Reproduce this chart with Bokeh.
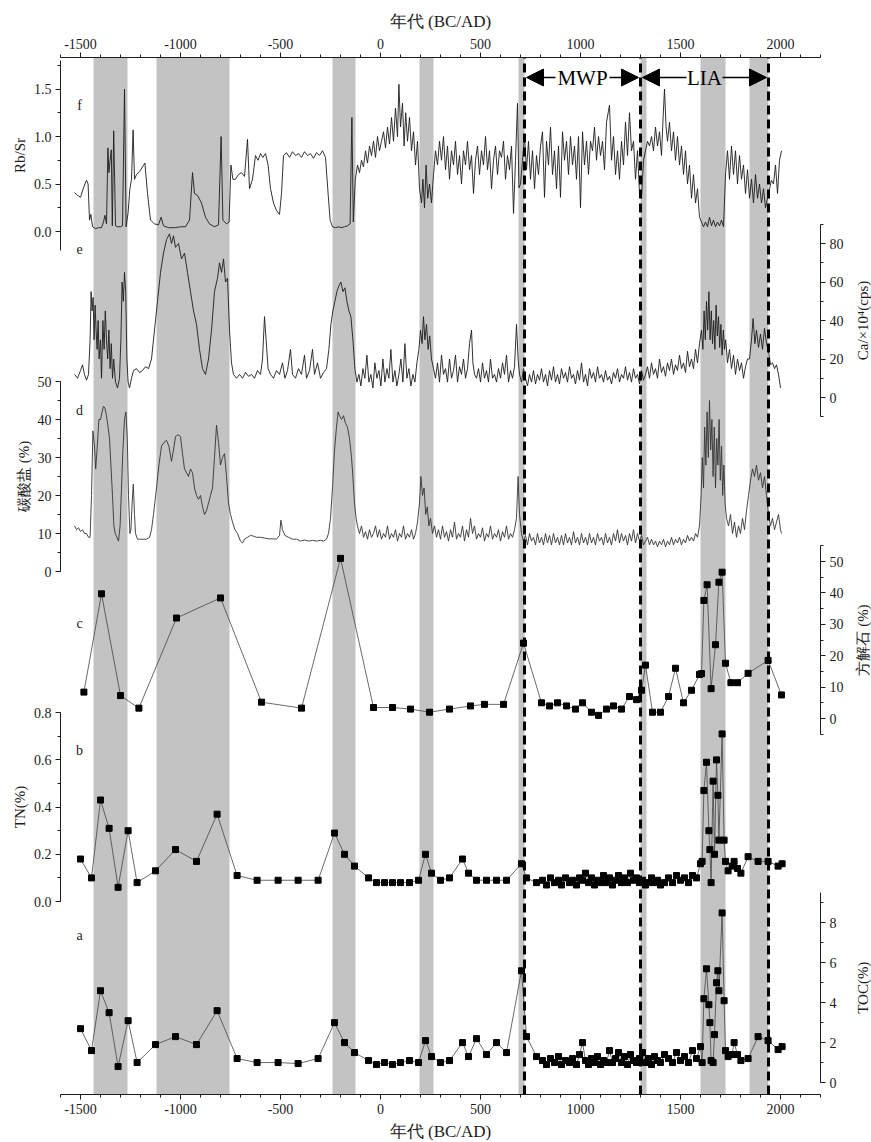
import math
from bokeh.plotting import figure
from bokeh.models import (Range1d, LinearAxis, SingleIntervalTicker, PrintfTickFormatter,
                          BoxAnnotation, Label, Arrow, NormalHead)
from bokeh.embed import file_html
from bokeh.resources import INLINE

# ---------------- data ----------------
# f: Rb/Sr
rbsr_year = [-1530,-1515,-1500,-1485,-1470,-1462,-1455,-1448,-1440,-1425,-1410,-1395,-1385,-1378,-1370,-1363,-1358,-1352,-1346,-1341,
             -1334,-1325,-1315,-1300,-1290,-1280,-1272,-1262,-1253,-1245,-1237,-1230,-1220,-1205,-1190,-1178,-1165,-1150,-1130,-1110,
             -1097,-1085,-1060,-1030,-1000,-975,-955,-940,-930,-915,-895,-875,-855,-830,-810,-797,-788,-770,-757,-748,
             -738,-725,-710,-695,-680,-665,-655,-640,-625,-612,-600,-588,-575,-562,-550,-535,-520,-505,-495,-485,
             -470,-455,-440,-425,-410,-395,-380,-365,-350,-335,-320,-305,-290,-275,-262,-252,-240,-225,-210,-195,
             -180,-165,-152,-143,-136,-126,-115,-105,-95,-85,-75,-65,-55,-45,-35,-25,-15,-5,5,15,
             25,35,45,55,65,75,85,92,100,110,118,126,135,145,155,165,175,185,195,205,
             212,220,228,236,245,255,265,275,285,295,305,315,325,335,345,355,365,375,385,395,
             405,415,425,435,445,455,465,475,485,495,505,515,525,535,545,555,565,575,585,595,
             605,615,625,635,645,655,665,675,685,692,700,710,720,730,740,750,760,770,780,790,
             800,810,820,830,840,850,860,870,880,890,900,910,920,930,940,950,960,970,980,990,
             1000,1010,1020,1030,1040,1050,1060,1070,1080,1090,1100,1110,1120,1130,1145,1155,1165,1175,1185,1195,
             1205,1215,1225,1235,1245,1255,1265,1275,1285,1295,1305,1315,1325,1335,1345,1355,1365,1375,1385,1395,
             1405,1413,1420,1428,1435,1445,1455,1465,1475,1485,1495,1505,1515,1525,1535,1545,1555,1565,1575,1585,
             1595,1605,1615,1625,1635,1645,1655,1665,1675,1685,1695,1705,1715,1725,1735,1745,1755,1765,1775,1785,
             1795,1805,1815,1825,1835,1845,1855,1865,1875,1885,1895,1905,1915,1925,1935,1945,1955,1965,1975,1985,
             1995,2005]
rbsr_val = [0.41,0.38,0.36,0.46,0.54,0.50,0.12,0.18,0.05,0.03,0.04,0.04,0.10,0.17,0.08,0.88,0.62,0.75,0.86,0.06,
            1.06,0.06,0.05,0.05,0.06,1.50,0.05,0.20,0.45,0.55,1.07,0.55,0.60,0.63,0.68,0.72,0.40,0.12,0.08,0.07,
            0.15,0.06,0.04,0.04,0.05,0.05,0.12,0.62,0.40,0.38,0.30,0.15,0.08,0.05,0.07,1.00,0.12,0.08,0.10,0.70,
            0.55,0.55,0.60,0.62,0.58,0.97,0.45,0.55,0.80,0.75,0.82,0.78,0.82,0.70,0.45,0.30,0.22,0.18,0.40,0.80,
            0.83,0.78,0.84,0.80,0.82,0.78,0.84,0.80,0.82,0.77,0.83,0.80,0.85,0.78,0.40,0.12,0.05,0.04,0.05,0.04,
            0.05,0.06,0.08,1.20,0.10,0.55,0.70,0.62,0.75,0.68,0.85,0.72,0.90,0.80,0.95,0.78,1.00,0.85,0.95,1.05,
            0.88,1.10,0.92,1.20,0.95,1.30,1.00,1.55,1.10,1.35,0.90,1.25,0.95,1.20,0.85,1.05,0.70,0.95,0.45,0.30,
            0.55,0.25,0.70,0.35,0.50,0.30,0.60,0.85,0.70,0.95,0.75,1.00,0.65,0.90,0.55,0.85,0.70,0.95,0.60,0.80,
            0.50,0.85,0.70,0.95,0.65,0.80,0.40,0.75,0.90,0.60,0.85,0.70,1.00,0.65,0.85,0.45,0.75,0.90,0.60,0.85,
            0.78,0.95,0.55,0.80,0.65,0.90,0.19,0.75,1.35,0.46,0.50,0.75,1.00,0.65,0.95,0.55,0.85,0.45,0.80,0.60,
            0.90,1.05,0.36,0.95,0.70,1.10,0.60,0.85,0.45,0.90,0.36,1.05,0.75,0.95,0.60,1.00,0.70,0.90,0.55,1.00,
            0.25,1.05,0.70,0.95,0.60,0.95,0.85,1.10,0.75,1.00,0.80,0.95,0.65,1.15,1.33,0.75,1.00,0.60,0.85,0.55,
            0.95,0.70,1.15,0.80,1.25,0.85,0.95,0.55,0.85,0.40,0.35,0.75,0.85,0.95,0.90,1.00,0.85,1.10,0.90,1.05,
            0.80,1.20,1.50,1.10,0.95,1.15,0.85,1.05,0.75,1.00,0.70,0.90,0.60,0.85,0.50,0.70,0.35,0.60,0.30,0.45,
            0.15,0.10,0.05,0.10,0.05,0.15,0.06,0.12,0.05,0.10,0.06,0.12,0.05,0.60,0.85,0.55,0.90,0.60,0.85,0.50,
            0.80,0.55,0.70,0.40,0.65,0.35,0.55,0.30,0.60,0.35,0.50,0.30,0.45,0.25,0.35,0.45,0.54,0.50,0.70,0.40,
            0.75,0.85]

# e: Ca
ca_year = [-1530,-1515,-1500,-1490,-1480,-1470,-1460,-1452,-1447,-1442,-1437,-1432,-1427,-1422,-1417,-1412,-1407,-1400,-1395,-1388,
           -1382,-1376,-1370,-1364,-1358,-1352,-1346,-1340,-1334,-1325,-1315,-1305,-1298,-1292,-1286,-1280,-1274,-1268,-1262,-1255,
           -1245,-1235,-1220,-1205,-1190,-1175,-1160,-1145,-1130,-1115,-1100,-1085,-1070,-1055,-1045,-1035,-1025,-1010,-995,-980,
           -965,-950,-935,-920,-905,-890,-875,-860,-845,-830,-815,-805,-795,-785,-775,-765,-755,-745,-735,-720,
           -705,-690,-675,-660,-645,-630,-615,-600,-590,-580,-572,-562,-550,-535,-520,-505,-490,-478,-465,-450,
           -440,-425,-410,-395,-380,-370,-355,-340,-330,-315,-300,-285,-270,-258,-248,-238,-228,-218,-208,-198,
           -188,-178,-168,-158,-148,-138,-128,-118,-108,-98,-88,-78,-68,-58,-48,-38,-28,-18,-8,2,
           12,22,32,42,52,62,72,82,92,102,112,122,132,142,152,162,172,182,192,200,
           208,215,222,230,238,246,255,265,275,285,295,305,315,325,335,345,355,365,375,385,
           395,405,415,425,435,445,455,462,470,480,490,500,510,520,530,540,550,560,570,580,
           590,600,610,620,630,640,650,660,670,680,688,695,705,715,725,735,745,755,765,775,
           785,795,805,815,825,835,845,855,865,875,885,895,905,915,925,935,945,955,965,975,
           985,995,1005,1015,1025,1035,1045,1055,1065,1075,1085,1095,1105,1115,1125,1135,1145,1155,1165,1175,
           1185,1195,1205,1215,1225,1235,1245,1255,1265,1275,1285,1295,1305,1315,1325,1335,1345,1355,1365,1375,
           1385,1395,1405,1415,1425,1435,1445,1455,1465,1475,1485,1495,1505,1515,1525,1535,1545,1555,1565,1575,
           1585,1595,1605,1612,1618,1624,1630,1636,1642,1648,1654,1660,1666,1672,1678,1684,1690,1696,1702,1708,
           1714,1720,1726,1735,1745,1755,1765,1775,1785,1795,1805,1815,1825,1835,1845,1855,1863,1872,1880,1890,
           1900,1910,1920,1930,1940,1950,1960,1970,1980,1990,2000]
ca_val = [12,10,14,17,12,9,12,30,55,45,52,30,48,35,25,40,20,30,10,40,
          25,45,30,20,35,15,28,10,20,8,5,10,30,60,50,65,55,20,8,5,
          10,14,15,13,14,16,15,20,35,50,65,75,82,85,80,84,78,80,72,75,
          65,55,45,38,25,15,12,20,35,55,62,70,65,72,60,62,35,18,12,10,
          12,10,13,11,12,10,14,12,20,42,30,15,12,10,14,12,18,10,14,25,
          12,10,15,12,22,10,14,25,12,18,10,13,15,25,38,45,50,55,58,60,
          55,57,50,45,42,30,15,8,12,6,15,10,22,8,12,5,18,10,14,6,
          20,8,15,10,25,8,14,6,12,20,8,28,10,15,6,12,8,18,25,35,
          28,42,30,38,25,32,20,15,10,18,8,22,12,15,8,20,10,14,22,8,
          16,12,20,10,15,28,35,18,12,10,15,8,18,10,14,8,20,10,12,8,
          15,10,18,12,22,8,14,10,16,38,20,12,8,15,10,6,12,8,14,7,
          12,9,15,8,12,6,14,9,16,8,12,7,15,10,13,8,16,10,12,7,
          14,9,18,8,12,6,15,10,13,8,16,10,12,8,14,9,11,7,13,10,
          15,8,12,10,16,9,13,8,15,10,12,7,14,9,12,16,10,18,12,15,
          10,20,13,16,11,18,14,20,12,17,14,22,15,18,13,24,16,20,15,25,
          18,28,35,25,45,30,50,35,55,30,45,28,40,25,48,32,42,26,38,22,
          35,25,30,18,25,15,22,12,20,14,18,10,16,20,20,30,41,28,35,26,
          33,25,36,28,24,17,18,15,17,12,5]

# d: carbonate (%)
carb_year = [-1530,-1520,-1510,-1500,-1490,-1480,-1470,-1460,-1452,-1445,-1438,-1430,-1424,-1416,-1408,-1400,-1392,-1385,-1378,-1370,
             -1362,-1355,-1348,-1340,-1333,-1326,-1318,-1310,-1302,-1295,-1288,-1280,-1273,-1266,-1260,-1253,-1248,-1242,-1236,-1230,
             -1225,-1215,-1200,-1185,-1170,-1155,-1145,-1135,-1120,-1108,-1095,-1082,-1070,-1058,-1045,-1035,-1025,-1012,-1000,-990,
             -980,-970,-960,-950,-940,-930,-920,-910,-900,-890,-880,-870,-860,-850,-840,-830,-820,-810,-800,-790,
             -780,-770,-760,-750,-740,-728,-715,-700,-690,-680,-665,-650,-635,-620,-600,-580,-560,-540,-520,-505,
             -498,-490,-478,-460,-440,-420,-400,-380,-360,-340,-320,-300,-285,-270,-260,-250,-240,-230,-220,-212,
             -205,-195,-185,-175,-165,-155,-145,-138,-130,-122,-115,-105,-95,-85,-75,-65,-55,-45,-35,-25,
             -15,-5,5,15,25,35,45,55,65,75,85,95,105,115,125,135,145,155,165,175,
             185,195,202,210,218,226,234,242,250,260,270,280,290,300,310,320,330,340,350,360,
             370,380,390,400,410,420,430,440,450,460,470,480,490,500,510,520,530,540,550,560,
             570,580,590,600,610,620,630,640,650,660,670,680,688,695,705,715,725,735,745,755,
             765,775,785,795,805,815,825,835,845,855,865,875,885,895,905,915,925,935,945,955,
             965,975,985,995,1005,1015,1025,1035,1045,1055,1065,1075,1085,1095,1105,1115,1125,1135,1145,1155,
             1165,1175,1185,1195,1205,1215,1225,1235,1245,1255,1265,1275,1285,1295,1305,1315,1325,1335,1345,1355,
             1365,1375,1385,1395,1405,1415,1425,1435,1445,1455,1465,1475,1485,1495,1505,1515,1525,1535,1545,1555,
             1565,1575,1585,1595,1603,1609,1615,1621,1627,1633,1639,1645,1651,1657,1663,1669,1675,1681,1687,1693,
             1699,1705,1711,1717,1723,1730,1740,1750,1760,1770,1780,1790,1800,1810,1820,1830,1840,1850,1860,1870,
             1880,1890,1900,1910,1920,1930,1940,1950,1960,1970,1980,1990,2000,2005]
carb_val = [12,11,11.5,10.5,11,10,10,9,9,20,37,33,27,33,40,40,42,43.5,43,41,
            38,35,28,20,12,10,9,8,12,22,32,40,42,35,20,10,11,18,23,15,
            10,8.5,8.5,8.5,8.5,9,11,15,22,28,33,34,34.5,33,29,32,35.5,36,35.5,31,
            27,26,25,27,26,22,20,19,20,17,15,16,18,20,22,30,38.5,34,28,30,
            31,25,18,15,13,11,10,8,7.5,8.5,9,9.5,9.3,9,9,8.8,8.6,8.6,8.5,9.5,
            13.5,11,9.5,9,8.5,8.5,8,8.3,8,8.2,8,8.2,8,8.5,10,14,22,32,38,42,
            41,40,41,39,38,35,30,25,18,14,12,10,12,9,10.5,8.5,11,9,10,12,
            9,11,8.5,10,9,12,8.5,10,9,11,8,10,9,12,8.5,10,9,11,8.5,10,
            13,18,25,20,22,15,17,12,14,10,12,9,11,8.5,12,9,10.5,8,11,9,
            13,8.5,10,9,12,8,11,9,14,10,12,8.5,10,9,11.5,8,10,9,12,8.5,
            10,9,11,8,10.5,9,12,8.5,10,9,11,14,25,15,10,8,9.5,7,10,8,
            9,7,10,7.5,9,7,10,7.5,9.5,7,10,7.5,9,7,9.5,7,10,7.5,9,7,
            10.5,7.5,9,7,10,7.5,9,7,10,7.5,9,7,10,8,9,7,10,7.5,9,7,
            10,8,11,7.5,10,8,9.5,7,10,8,11,7.5,10,8,9.5,7,8,9,7,8.5,
            7,8,6.5,8,7,8.5,6.5,8,7,9,7,8.5,7.5,9,7,8.5,7.5,9.5,8,9,
            8,10,9,12,20,30,22,38,28,42,30,45,32,40,25,38,22,35,28,40,
            24,33,20,28,18,14,12,15,10,13,9,12,10,14,11,16,20,24,27,25,
            28,24,26,22,25,20,15,12,14,11,13,15,11,10]

# c: calcite (%)
calc_year = [-1483,-1395,-1300,-1208,-1020,-800,-595,-395,-200,-35,60,150,245,345,450,520,615,715,805,845,
             885,930,975,1010,1055,1090,1130,1165,1205,1245,1280,1305,1325,1360,1400,1440,1475,1515,1555,1595,
             1605,1617,1633,1653,1675,1692,1708,1725,1752,1785,1838,1938,2005]
calc_val = [8.4,39.7,7.3,3.3,32,38.4,5.2,3.3,51,3.5,3.5,3.0,2.0,3.0,4.0,4.5,4.5,24,5,4,
            5,4,3,5,2,1,3,4,3,7,6,9,17,2,2,7,16,5,9,14,
            14.3,37.6,42.6,9.5,23.5,43.4,46.6,17.6,11.4,11.4,14.4,18.5,7.5]

# b: TN (%) and a: TOC (%) share sample ages
nut_year = [-1500,-1445,-1400,-1357,-1312,-1262,-1217,-1125,-1025,-920,-817,-717,-617,-512,-412,-312,-230,-180,-130,-60,
            -20,20,60,100,145,190,225,255,300,345,410,440,480,530,580,630,705,730,780,810,
            830,850,870,890,905,925,945,960,980,995,1010,1025,1040,1055,1070,1085,1100,1115,1130,1145,
            1160,1175,1190,1205,1220,1235,1250,1265,1280,1295,1310,1325,1340,1355,1370,1385,1400,1420,1440,1460,
            1480,1500,1520,1540,1560,1580,1600,1608,1617,1630,1642,1647,1653,1663,1670,1680,1687,1692,1708,1718,
            1725,1738,1758,1768,1785,1802,1838,1888,1938,1988,2008]
tn_val = [0.18,0.10,0.43,0.31,0.06,0.30,0.08,0.13,0.22,0.17,0.37,0.11,0.09,0.09,0.09,0.09,0.29,0.20,0.15,0.10,
          0.08,0.08,0.08,0.08,0.08,0.09,0.20,0.12,0.09,0.10,0.18,0.12,0.09,0.09,0.09,0.09,0.16,0.10,0.08,0.09,
          0.07,0.10,0.08,0.09,0.07,0.10,0.08,0.09,0.07,0.10,0.09,0.12,0.08,0.10,0.07,0.09,0.08,0.11,0.08,0.10,
          0.07,0.09,0.11,0.08,0.10,0.08,0.12,0.09,0.10,0.08,0.09,0.07,0.08,0.10,0.08,0.09,0.07,0.08,0.10,0.08,
          0.11,0.09,0.10,0.08,0.11,0.10,0.16,0.17,0.47,0.59,0.30,0.22,0.08,0.51,0.20,0.60,0.45,0.26,0.71,0.26,
          0.17,0.13,0.15,0.17,0.14,0.12,0.19,0.17,0.17,0.15,0.16]
toc_val = [2.7,1.6,4.6,3.5,0.8,3.1,1.0,1.9,2.3,1.9,3.6,1.2,1.0,1.0,0.95,1.2,3.0,2.0,1.5,1.1,
           0.9,1.0,0.9,1.0,1.1,1.0,2.1,1.3,1.0,1.1,2.0,1.3,2.2,1.4,2.0,1.5,5.6,2.3,1.3,1.1,
           0.9,1.2,1.0,1.3,0.9,1.1,1.0,1.2,0.9,1.4,2.0,1.1,0.9,1.2,1.0,1.3,0.9,1.1,1.0,1.6,
           1.0,1.2,1.5,1.0,1.3,0.9,1.4,1.1,1.0,1.2,1.5,1.0,1.2,0.9,1.3,1.1,1.0,1.4,1.2,1.0,
           1.5,1.1,1.3,1.0,1.6,1.2,1.8,1.0,4.2,5.7,3.9,3.0,1.1,1.0,2.4,5.0,5.6,4.6,8.5,4.1,
           1.6,1.3,1.4,2.0,1.4,1.1,1.2,2.3,2.1,1.65,1.8]

band_start = [-1435, -1120, -240, 195, 690, 1300, 1600, 1845]
band_end = [-1265, -755, -125, 265, 720, 1330, 1725, 1940]
boundary_years = [720, 1300, 1940]
period_names = ["MWP", "LIA"]
period_start = [720, 1300]
period_end = [1300, 1940]

# ---------------- layout ----------------
W, H = 871, 1142
FL, FR, FT, FB = 60, 820, 57, 1094      # plot box in page pixels
YR0, YR1 = -1600, 2200                   # years at FL and FR
PX_PER_YEAR = (FR - FL) / (YR1 - YR0)
SERIF = "Liberation Serif"
INK = "#1c1c1c"

# the frame covers the whole canvas so that axes placed at fixed locations are not clipped
x_lo = YR0 - FL / PX_PER_YEAR
x_hi = YR1 + (W - FR) / PX_PER_YEAR

p = figure(width=W, height=H, output_backend="svg", toolbar_location=None,
           x_range=Range1d(x_lo, x_hi), y_range=Range1d(0, H),
           x_axis_location=None, y_axis_location=None,
           min_border_left=0, min_border_right=0, min_border_top=0, min_border_bottom=0)
p.outline_line_color = None
p.grid.grid_line_color = None
p.background_fill_color = "white"

# panel scales: (value, page row where it sits, pixels per unit)
panel_anchor = {
    "f": (0, 231, 95.0),
    "e": (0, 397, 1.925),
    "d": (0, 571, 3.8),
    "c": (0, 718, 3.14),
    "b": (0, 901, 236.0),
    "a": (0, 1082, 19.95),
}
p.extra_y_ranges = {k: Range1d(v0 - (H - y0) / kk, v0 + y0 / kk)
                    for k, (v0, y0, kk) in panel_anchor.items()}


def style(ax, label_size="15px"):
    ax.axis_line_color = INK
    ax.major_tick_line_color = INK
    ax.minor_tick_line_color = INK
    ax.major_tick_in = 0
    ax.major_tick_out = 5
    ax.minor_tick_in = 0
    ax.minor_tick_out = 3
    ax.major_label_text_font = SERIF
    ax.major_label_text_font_size = "14px"
    ax.major_label_text_color = INK
    ax.major_label_standoff = 4
    ax.axis_label_text_font = SERIF
    ax.axis_label_text_font_size = label_size
    ax.axis_label_text_font_style = "normal"
    ax.axis_label_text_color = INK
    ax.axis_label_standoff = 3


RIGHT_TITLE_X = YR1 + (862 - FR) / PX_PER_YEAR


def yaxis(name, side, label, bounds, interval, fmt):
    ax = LinearAxis(y_range_name=name, bounds=bounds,
                    axis_label=label if side == "left" else None,
                    ticker=SingleIntervalTicker(interval=interval, num_minor_ticks=2),
                    formatter=PrintfTickFormatter(format=fmt),
                    fixed_location=YR0 if side == "left" else YR1)
    style(ax)
    p.add_layout(ax, side)
    if side == "right":
        p.add_layout(Label(x=RIGHT_TITLE_X, y=(bounds[0] + bounds[1]) / 2, y_range_name=name,
                           text=label, angle=math.pi / 2, text_font=SERIF,
                           text_font_size="15px", text_color=INK,
                           text_align="center", text_baseline="middle"))


# bands
for s, e in zip(band_start, band_end):
    p.add_layout(BoxAnnotation(left=s, right=e, bottom=H - FB, top=H - FT,
                               fill_color="#c3c3c3", fill_alpha=1.0,
                               line_color=None, level="underlay"))

# series
p.line(rbsr_year, rbsr_val, y_range_name="f", line_color=INK, line_width=0.9)
p.line(ca_year, ca_val, y_range_name="e", line_color=INK, line_width=0.9)
p.line(carb_year, carb_val, y_range_name="d", line_color="#333333", line_width=0.9)
for yrs, vals, rn in [(calc_year, calc_val, "c"), (nut_year, tn_val, "b"), (nut_year, toc_val, "a")]:
    p.line(yrs, vals, y_range_name=rn, line_color="#444444", line_width=0.8)
    p.scatter(yrs, vals, y_range_name=rn, marker="square", size=6, color="black")

# y axes
yaxis("f", "left", "Rb/Sr", (-0.2, 1.8), 0.5, "%.1f")
yaxis("e", "right", "Ca/×10⁴(cps)", (-10, 90), 20, "%d")
yaxis("d", "left", "碳酸盐 (%)", (0, 50), 10, "%d")
yaxis("c", "right", "方解石 (%)", (-5, 55), 10, "%d")
yaxis("b", "left", "TN(%)", (0, 0.8), 0.2, "%.1f")
yaxis("a", "right", "TOC(%)", (0, 9.5), 2, "%d")

# x axes (top and bottom)
for side, loc in [("above", H - FT), ("below", H - FB)]:
    ax = LinearAxis(axis_label="年代 (BC/AD)", bounds=(YR0, YR1),
                    ticker=SingleIntervalTicker(interval=500, num_minor_ticks=5),
                    formatter=PrintfTickFormatter(format="%d"),
                    fixed_location=loc)
    style(ax, "17px")
    ax.axis_label_standoff = 5
    p.add_layout(ax, side)

# dashed boundaries
nb = len(boundary_years)
p.segment(x0=boundary_years, y0=[H - FB] * nb, x1=boundary_years, y1=[H - FT] * nb,
          line_color="black", line_width=3, line_dash="9 5")

# panel letters (master y = H - page row)
for letter, row in zip(["f", "e", "d", "c", "b", "a"], [105, 248, 410, 623, 750, 935]):
    p.add_layout(Label(x=-1505, y=H - row, text=letter, text_font=SERIF,
                       text_font_size="14px", text_color=INK,
                       text_align="center", text_baseline="middle"))

# MWP / LIA arrows
ANN_Y = H - 77
half_w = {"MWP": 135, "LIA": 90}
for name, s, e in zip(period_names, period_start, period_end):
    mid = (s + e) / 2
    p.add_layout(Label(x=mid, y=ANN_Y, text=name, text_font=SERIF, text_font_size="21px",
                       text_color="black", text_align="center", text_baseline="middle"))
    for x_from, x_to in [(mid - half_w[name], s + 10), (mid + half_w[name], e - 10)]:
        p.add_layout(Arrow(x_start=x_from, y_start=ANN_Y, x_end=x_to, y_end=ANN_Y,
                           line_width=1.5, line_color="black",
                           end=NormalHead(size=17, fill_color="black", line_color="black")))

open("out.html", "w").write(file_html(p, INLINE))
